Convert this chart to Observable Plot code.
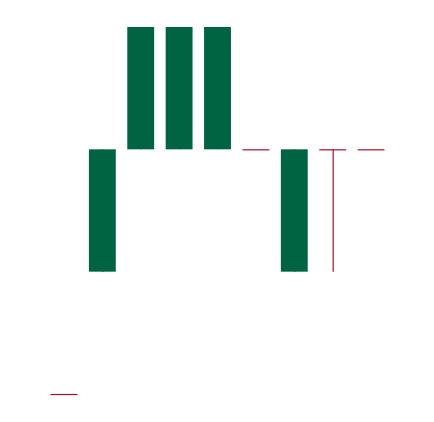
<!DOCTYPE html>
<html>
<head>
<meta charset="utf-8">
<script src="https://cdn.jsdelivr.net/npm/d3@7"></script>
<script src="https://cdn.jsdelivr.net/npm/@observablehq/plot@0.6"></script>
<style>
  html, body { margin: 0; padding: 0; background: #fff; }
</style>
</head>
<body>
<div id="chart"></div>
<script>
const days  = ["D1", "D2", "D3", "D4", "D5", "D6", "D7", "D8", "D9"];
const open  = [0, 1, 2, 2, 2, 2, 1, 2, 2];
const close = [0, 2, 3, 3, 3, 2, 2, 2, 2];
const high  = [0, 2, 3, 3, 3, 2, 2, 2, 2];
const low   = [0, 1, 2, 2, 2, 2, 1, 1, 2];

const data = days.map((d, i) => ({day: d, open: open[i], close: close[i], high: high[i], low: low[i]}));
const up = d => d.close > d.open;
const colorOf = d => up(d) ? "#006341" : "#a8102a";

const chart = Plot.plot({
  width: 434,
  height: 422,
  marginLeft: 39,
  marginRight: 38,
  marginTop: 27,
  marginBottom: 28,
  x: {type: "band", domain: days, padding: 0.3, round: false, axis: null},
  y: {domain: [0, 3], axis: null},
  marks: [
    Plot.ruleX(data, {x: "day", y1: "low", y2: "high", stroke: colorOf, strokeWidth: 1.2}),
    Plot.barY(data.filter(up), {x: "day", y1: "open", y2: "close", fill: colorOf}),
    Plot.tickY(data.filter(d => !up(d)), {x: "day", y: "close", stroke: colorOf, strokeWidth: 1.2})
  ]
});
document.getElementById("chart").appendChild(chart);
</script>
</body>
</html>
